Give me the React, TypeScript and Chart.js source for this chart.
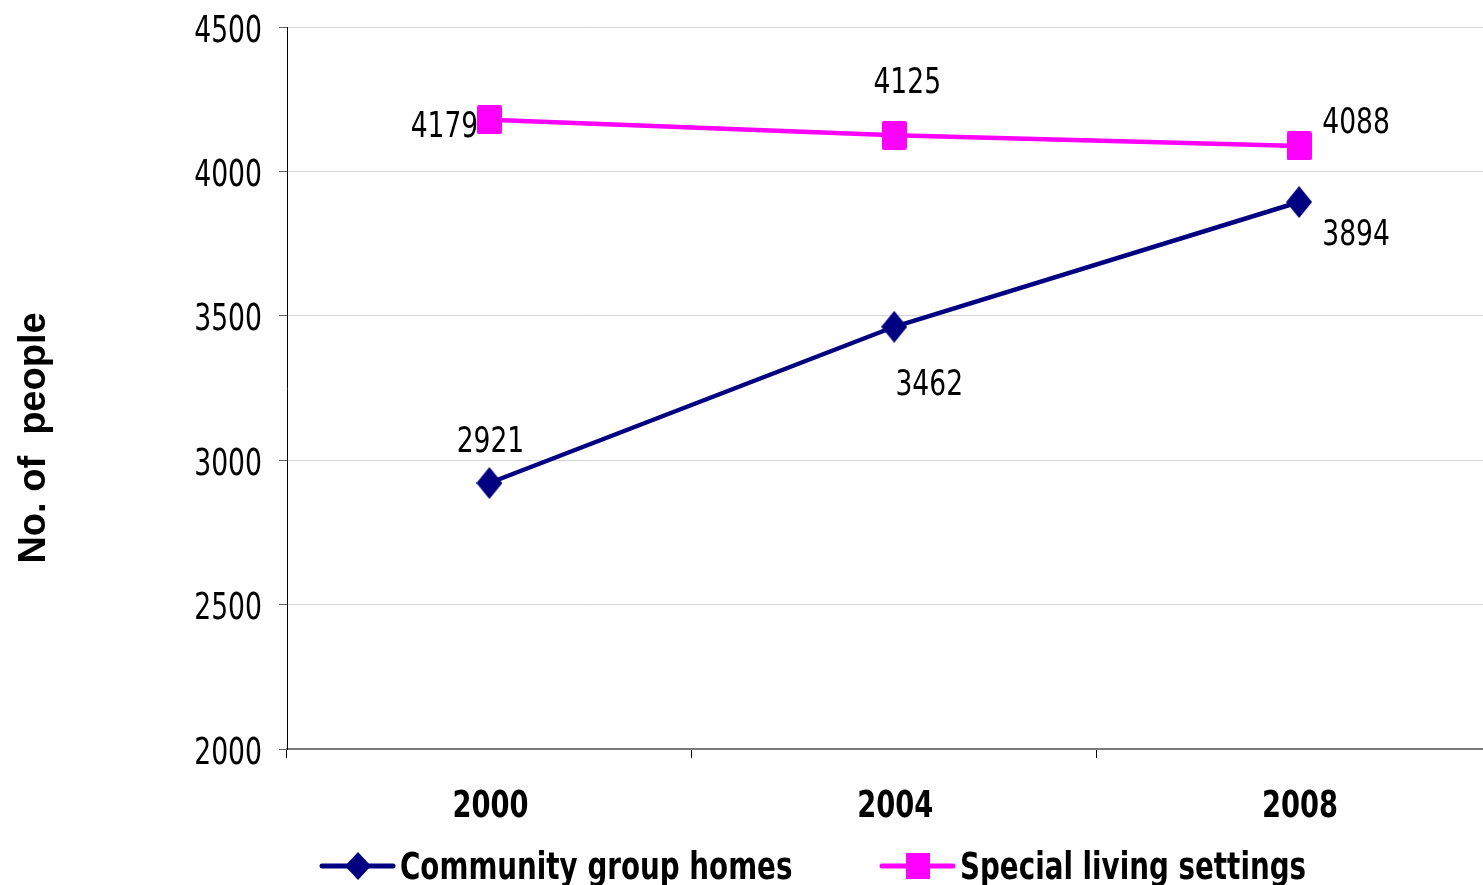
import React, { useEffect, useRef } from 'react';
import { Chart, registerables } from 'chart.js';

Chart.register(...registerables);

const categories = ['2000', '2004', '2008'];
const seriesNames = ['Community group homes', 'Special living settings'];
const communityValues = [2921, 3462, 3894];
const specialValues = [4179, 4125, 4088];
const yMin = 2000;
const yMax = 4500;
const yStep = 500;
const yAxisTitle = 'No. of  people';

const COND = '"DejaVu Sans Condensed", "DejaVu Sans", sans-serif';
const ARIAL = '"Liberation Sans", Arial, sans-serif';
const NAVY = '#000080';
const MAGENTA = '#FF00FF';
const CANVAS_W = 1520;

// label offsets (dx to centre, dy to centre) relative to each point, per dataset
const labelOffsets = [
  [[1, -44], [35, 55], [57, 30]],
  [[-45, 4], [13, -55], [57, -26]],
];

function drawNarrow(ctx: CanvasRenderingContext2D, text: string, x: number, y: number, font: string, sx: number, align: CanvasTextAlign) {
  ctx.save();
  ctx.translate(x, y);
  ctx.scale(sx, 1);
  ctx.font = font;
  ctx.fillStyle = '#000';
  ctx.textAlign = align;
  ctx.textBaseline = 'alphabetic';
  ctx.fillText(text, 0, 0);
  ctx.restore();
}

function makeDiamond(w: number, h: number, color: string) {
  const c = document.createElement('canvas');
  c.width = w;
  c.height = h;
  const g = c.getContext('2d')!;
  g.fillStyle = color;
  g.beginPath();
  g.moveTo(w / 2, 0);
  g.lineTo(w, h / 2);
  g.lineTo(w / 2, h);
  g.lineTo(0, h / 2);
  g.closePath();
  g.fill();
  return c;
}

function makeSquare(w: number, h: number, color: string) {
  const c = document.createElement('canvas');
  c.width = w;
  c.height = h;
  const g = c.getContext('2d')!;
  g.fillStyle = color;
  g.beginPath();
  (g as any).roundRect(0, 0, w, h, 2);
  g.fill();
  return c;
}

const textPlugin = {
  id: 'texts',
  afterDatasetsDraw(chart: any) {
    const ctx = chart.ctx;
    chart.data.datasets.forEach((ds: any, di: number) => {
      const meta = chart.getDatasetMeta(di);
      meta.data.forEach((pt: any, i: number) => {
        const [dx, dy] = labelOffsets[di][i];
        drawNarrow(ctx, String(ds.data[i]), pt.x + dx, pt.y + dy + 13, `36px ${COND}`, 0.82, 'center');
      });
    });
  },
  afterDraw(chart: any) {
    const ctx = chart.ctx;
    const ys = chart.scales.y;
    ys.ticks.forEach((t: any, i: number) => {
      const y = ys.getPixelForTick(i);
      drawNarrow(ctx, String(t.value), 262, y + 14.5, `37px ${COND}`, 0.8, 'right');
    });
    const xs = chart.scales.x;
    xs.ticks.forEach((t: any, i: number) => {
      const x = xs.getPixelForTick(i);
      drawNarrow(ctx, String(xs.getLabelForValue(t.value)), x + 1, 817, `bold 37px ${COND}`, 0.82, 'center');
    });

    ctx.save();
    ctx.translate(35, 438);
    ctx.rotate(-Math.PI / 2);
    ctx.font = `bold 38px ${ARIAL}`;
    ctx.fillStyle = '#000';
    ctx.textAlign = 'center';
    ctx.textBaseline = 'middle';
    ctx.fillText(yAxisTitle, 0, 0);
    ctx.restore();

    const ly = 866;
    const items = [
      { x: 322, color: NAVY, shape: 'diamond', text: seriesNames[0] },
      { x: 882, color: MAGENTA, shape: 'square', text: seriesNames[1] },
    ];
    ctx.save();
    items.forEach((it) => {
      ctx.strokeStyle = it.color;
      ctx.lineWidth = 5;
      ctx.lineCap = 'round';
      ctx.beginPath();
      ctx.moveTo(it.x, ly);
      ctx.lineTo(it.x + 71, ly);
      ctx.stroke();
      const cx = it.x + 36;
      ctx.fillStyle = it.color;
      if (it.shape === 'diamond') {
        ctx.beginPath();
        ctx.moveTo(cx, ly - 14);
        ctx.lineTo(cx + 13, ly);
        ctx.lineTo(cx, ly + 14);
        ctx.lineTo(cx - 13, ly);
        ctx.closePath();
        ctx.fill();
      } else {
        ctx.fillRect(cx - 12, ly - 13, 24, 26);
      }
      drawNarrow(ctx, it.text, it.x + 78, 879, `bold 37px ${COND}`, 0.834, 'left');
    });
    ctx.restore();
  },
};

export default function App() {
  const ref = useRef<HTMLCanvasElement | null>(null);
  useEffect(() => {
    if (!ref.current) return;
    const diamond = makeDiamond(26, 32, NAVY);
    const square = makeSquare(25, 29, MAGENTA);
    const chart = new Chart(ref.current, {
      type: 'line',
      data: {
        labels: categories,
        datasets: [
          {
            label: seriesNames[0],
            data: communityValues,
            borderColor: NAVY,
            backgroundColor: NAVY,
            borderWidth: 4.5,
            pointStyle: diamond,
            pointRadius: 14,
            tension: 0,
          },
          {
            label: seriesNames[1],
            data: specialValues,
            borderColor: MAGENTA,
            backgroundColor: MAGENTA,
            borderWidth: 4.5,
            pointStyle: square,
            pointRadius: 14,
            tension: 0,
          },
        ],
      },
      options: {
        responsive: false,
        animation: false,
        layout: { padding: { top: 27, bottom: 46, left: 0, right: 0 } },
        plugins: { legend: { display: false }, tooltip: { enabled: false } },
        scales: {
          x: {
            type: 'category',
            offset: true,
            grid: { drawOnChartArea: false, drawTicks: true, tickLength: 9, tickColor: '#000', offset: true },
            border: { color: '#7a7a7a', width: 2 },
            ticks: { display: false },
            afterFit: (s: any) => { s.height = 90; s.paddingLeft = 0; s.paddingRight = 0; },
          },
          y: {
            min: yMin,
            max: yMax,
            ticks: { display: false, stepSize: yStep },
            grid: { color: '#d4d4d4', tickColor: '#666', tickLength: 8 },
            border: { color: '#000', width: 1 },
            afterFit: (s: any) => { s.width = 287; s.paddingTop = 0; s.paddingBottom = 0; },
          },
        },
      } as any,
      plugins: [textPlugin],
    });
    return () => chart.destroy();
  }, []);
  return (
    <div style={{ position: 'fixed', left: 0, top: 0, width: 1483, height: 885, overflow: 'hidden', background: '#fff' }}>
      <div style={{ position: 'absolute', left: 0, top: 0, width: CANVAS_W, height: 885 }}>
        <canvas ref={ref} width={CANVAS_W} height={885} style={{ display: 'block', width: CANVAS_W, height: 885 }} />
      </div>
    </div>
  );
}
